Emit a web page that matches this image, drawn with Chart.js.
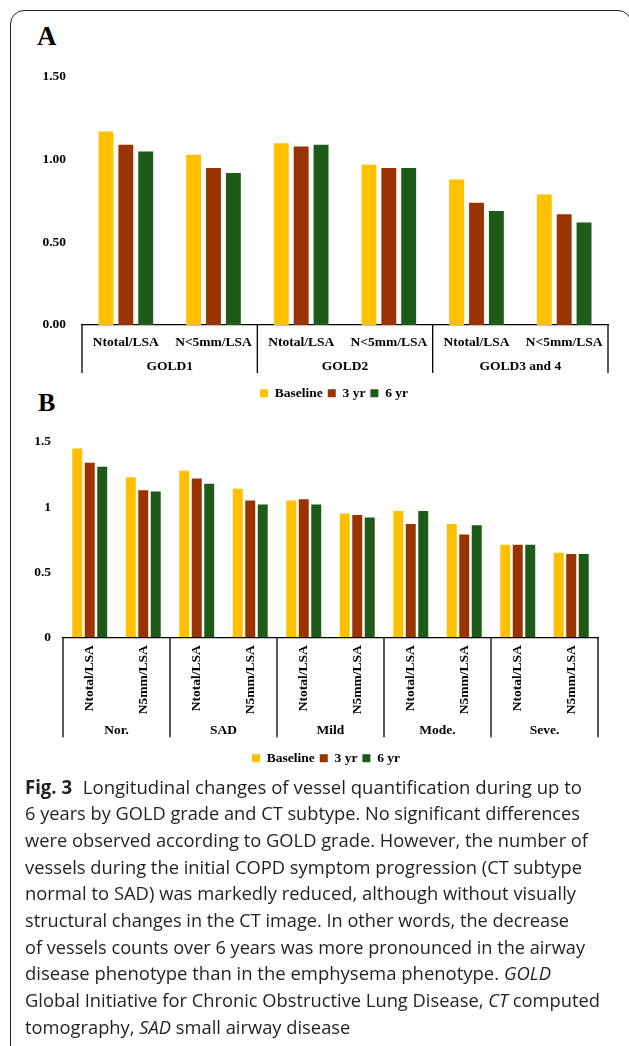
<!DOCTYPE html>
<html>
<head>
<meta charset="utf-8">
<script src="https://cdn.jsdelivr.net/npm/chart.js@4.4.1/dist/chart.umd.min.js"></script>
<style>
html,body{margin:0;padding:0;background:#fff;}
body{width:629px;height:1046px;position:relative;overflow:hidden;}
#frame{position:absolute;left:10px;top:10px;width:622px;height:1050px;border:1.5px solid #222;border-radius:14px;box-sizing:border-box;}
.plab{position:absolute;font-family:"Liberation Serif","Times New Roman",serif;font-weight:bold;line-height:1;color:#000;}
.wrap{position:absolute;left:0;}
.cap{position:absolute;left:25px;white-space:nowrap;font-family:"Open Sans","Noto Sans",sans-serif;font-size:19px;line-height:26.7px;color:#231f20;transform-origin:0 50%;}
.cap b{font-weight:bold;margin-right:6px;}
</style>
</head>
<body>
<div id="frame"></div>
<div class="plab" style="left:37px;top:23px;font-size:27px;">A</div>
<div class="plab" style="left:38px;top:390px;font-size:26px;">B</div>
<div class="wrap" style="top:0;width:668px;height:410px;"><canvas id="chartA"></canvas></div>
<div class="wrap" style="top:420px;width:652px;height:355px;"><canvas id="chartB"></canvas></div>
<div id="caption"></div>
<script>
// ---------- data ----------
const seriesNames = ['Baseline', '3 yr', '6 yr'];
const seriesColors = ['#FFC000', '#993300', '#1E5A18'];

const categoriesA = ['Ntotal/LSA', 'N<5mm/LSA', 'Ntotal/LSA', 'N<5mm/LSA', 'Ntotal/LSA', 'N<5mm/LSA'];
const groupsA = ['GOLD1', 'GOLD2', 'GOLD3 and 4'];
const baselineA = [1.17, 1.03, 1.10, 0.97, 0.88, 0.79];
const yr3A = [1.09, 0.95, 1.08, 0.95, 0.74, 0.67];
const yr6A = [1.05, 0.92, 1.09, 0.95, 0.69, 0.62];
const yTicksA = [0, 0.5, 1.0, 1.5];

const categoriesB = ['Ntotal/LSA', 'N5mm/LSA', 'Ntotal/LSA', 'N5mm/LSA', 'Ntotal/LSA', 'N5mm/LSA', 'Ntotal/LSA', 'N5mm/LSA', 'Ntotal/LSA', 'N5mm/LSA'];
const groupsB = ['Nor.', 'SAD', 'Mild', 'Mode.', 'Seve.'];
const baselineB = [1.45, 1.23, 1.28, 1.14, 1.05, 0.95, 0.97, 0.87, 0.71, 0.65];
const yr3B = [1.34, 1.13, 1.22, 1.05, 1.06, 0.94, 0.87, 0.79, 0.71, 0.64];
const yr6B = [1.31, 1.12, 1.18, 1.02, 1.02, 0.92, 0.97, 0.86, 0.71, 0.64];
const yTicksB = [0, 0.5, 1, 1.5];

const captionLines = [
  '<b>Fig. 3</b> Longitudinal changes of vessel quantification during up to',
  '6 years by GOLD grade and CT subtype. No significant differences',
  'were observed according to GOLD grade. However, the number of',
  'vessels during the initial COPD symptom progression (CT subtype',
  'normal to SAD) was markedly reduced, although without visually',
  'structural changes in the CT image. In other words, the decrease',
  'of vessels counts over 6 years was more pronounced in the airway',
  'disease phenotype than in the emphysema phenotype. <i>GOLD</i>',
  'Global Initiative for Chronic Obstructive Lung Disease, <i>CT</i> computed',
  'tomography, <i>SAD</i> small airway disease'
];
const captionEnds = [582, 580, 588, 582, 576, 569, 585, 551, 600, null];

// ---------- chart helpers ----------
Chart.defaults.color = '#000';
const tickFont = {family: '"Liberation Serif", "Times New Roman", serif', weight: 'bold', size: 13.5};

const separatorPlugin = {
  id: 'groupSeparators',
  afterDraw(chart, args, opts) {
    const x = chart.scales.x, x2 = chart.scales.x2;
    const n = x.getLabels().length;
    const per = opts.perGroup;
    const ctx = chart.ctx;
    const top = chart.chartArea.bottom;
    const bottom = x2.top + opts.depth;
    ctx.save();
    ctx.strokeStyle = '#000';
    ctx.lineWidth = 1.3;
    for (let k = 0; k <= n; k += per) {
      let px;
      if (k === 0) px = x.left;
      else if (k === n) px = x.right;
      else px = (x.getPixelForValue(k - 1) + x.getPixelForValue(k)) / 2;
      ctx.beginPath();
      ctx.moveTo(px, top);
      ctx.lineTo(px, bottom);
      ctx.stroke();
    }
    ctx.restore();
  }
};

function makeChart(id, cats, groups, vals, yTicks, o) {
  const datasets = vals.map((v, i) => ({
    label: seriesNames[i],
    data: v,
    backgroundColor: seriesColors[i],
    borderWidth: 0,
    categoryPercentage: o.catPct,
    barPercentage: o.barPct
  }));
  return new Chart(document.getElementById(id), {
    type: 'bar',
    data: {labels: cats, datasets},
    plugins: [separatorPlugin],
    options: {
      responsive: true,
      maintainAspectRatio: false,
      animation: false,
      layout: {padding: {left: 0, right: 0, top: o.padT, bottom: 0}},
      plugins: {
        legend: {
          position: 'bottom',
          labels: {boxWidth: 8, boxHeight: 8, padding: 5, font: tickFont, color: '#000'}
        },
        tooltip: {enabled: false},
        groupSeparators: {perGroup: 2, depth: o.sepDepth}
      },
      scales: {
        y: {
          min: 0, max: yTicks[yTicks.length - 1],
          afterBuildTicks: s => { s.ticks = yTicks.map(v => ({value: v})); },
          grid: {display: false, drawTicks: false},
          border: {display: false},
          ticks: {font: tickFont, color: '#000', padding: o.yPad, callback: o.yFmt},
          afterFit: s => { s.width = o.yW; }
        },
        yspace: {
          type: 'linear',
          axis: 'y',
          position: 'right',
          display: true,
          grid: {display: false, drawTicks: false},
          border: {display: false},
          ticks: {display: false},
          afterFit: s => { s.width = o.rightW; }
        },
        x: {
          weight: 0,
          grid: {display: false, drawTicks: false},
          border: {display: true, color: '#000', width: 1.3},
          ticks: {font: tickFont, color: '#000', padding: o.xPad, autoSkip: false,
                  minRotation: o.rot, maxRotation: o.rot},
          afterFit: s => { s.height = o.xH; }
        },
        x2: {
          type: 'category',
          axis: 'x',
          position: 'bottom',
          weight: 1,
          labels: groups,
          offset: true,
          grid: {display: false, drawTicks: false},
          border: {display: false},
          ticks: {font: tickFont, color: '#000', padding: 4, autoSkip: false, maxRotation: 0, minRotation: 0},
          afterFit: s => { s.height = o.x2H; }
        }
      }
    }
  });
}

makeChart('chartA', categoriesA, groupsA, [baselineA, yr3A, yr6A], yTicksA, {
  catPct: 0.68, barPct: 0.75,
  padT: 77, yW: 82, yPad: 16, yFmt: v => Number(v).toFixed(2), rightW: 60,
  xH: 29, xPad: 9, rot: 0, x2H: 27.5, sepDepth: 19
});

makeChart('chartB', categoriesB, groupsB, [baselineB, yr3B, yr6B], yTicksB, {
  catPct: 0.70, barPct: 0.8,
  padT: 22, yW: 63, yPad: 12, yFmt: v => String(v), rightW: 54,
  xH: 81, xPad: 8, rot: 90, x2H: 28.25, sepDepth: 19
});

// ---------- caption ----------
const capEl = document.getElementById('caption');
const capDivs = captionLines.map((html, i) => {
  const d = document.createElement('div');
  d.className = 'cap';
  d.style.top = (787 + 26.7 * i - 13.5) + 'px';
  d.innerHTML = html;
  capEl.appendChild(d);
  return d;
});
const scales = [];
capDivs.forEach((d, i) => {
  if (captionEnds[i] != null) {
    const w = d.getBoundingClientRect().width;
    scales[i] = (captionEnds[i] - 25) / w;
  }
});
const valid = scales.filter(s => s);
const meanScale = valid.reduce((a, b) => a + b, 0) / valid.length;
capDivs.forEach((d, i) => {
  const s = scales[i] || meanScale;
  d.style.transform = 'scaleX(' + s.toFixed(4) + ')';
});
</script>
</body>
</html>
